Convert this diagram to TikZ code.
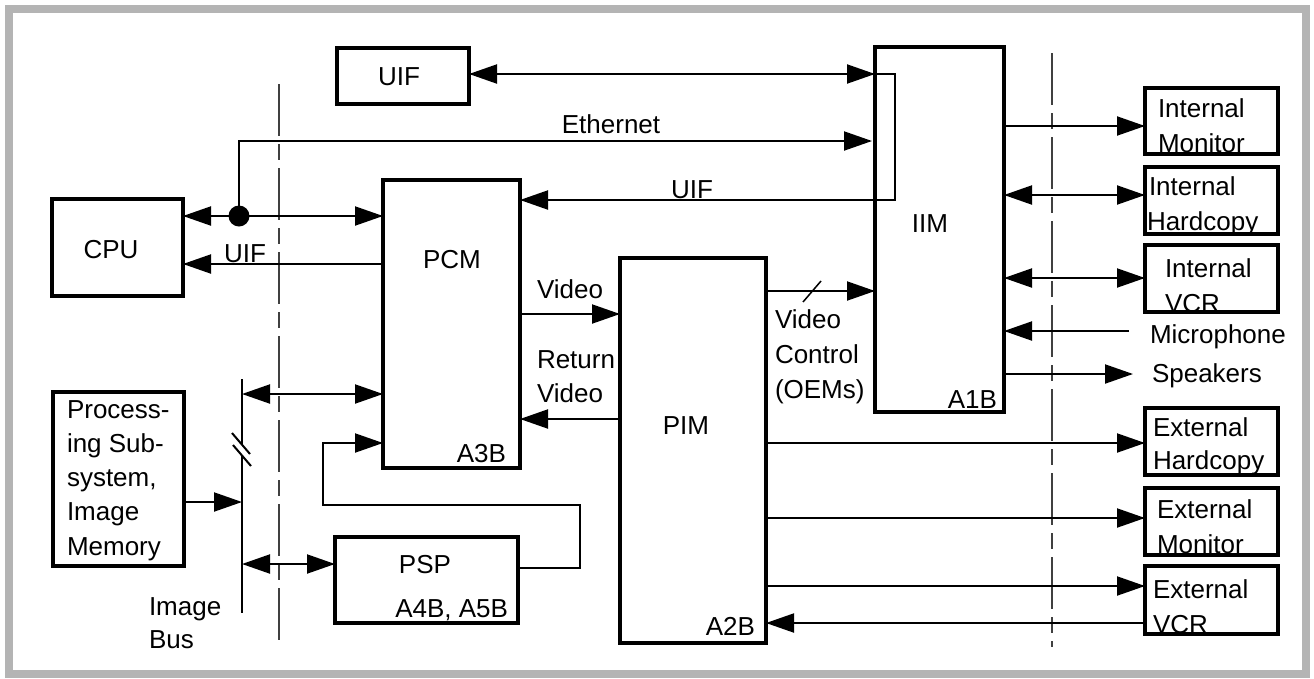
\documentclass[tikz,border=0pt]{standalone}
\usepackage{fontspec}
\setmainfont{Liberation Sans}
\usetikzlibrary{arrows.meta}
\begin{document}
\begin{tikzpicture}[x=1pt,y=-1pt,
  box/.style={draw, line width=3.2pt, rectangle, inner sep=0pt, outer sep=0pt},
  txt/.style={inner sep=0pt, outer sep=0pt, font=\fontsize{26}{30}\selectfont},
  conn/.style={line width=2pt},
  arr/.style={conn, -{Triangle[length=28pt,width=19pt]}},
  dbl/.style={conn, {Triangle[length=28pt,width=19pt]}-{Triangle[length=28pt,width=19pt]}},
  sepline/.style={line width=1.3pt, black!75, dash pattern=on 52pt off 8pt on 16pt off 8pt},
]
\useasboundingbox (0,0) rectangle (1314,678);
\draw[line width=8pt, color={rgb,255:red,180;green,180;blue,180}] (8.5,8.5) rectangle (1306,674);

% separator lines
\draw[sepline] (279,84) -- (279,643);
\draw[sepline] (1052,53) -- (1052,647);

% boxes
\node[box, minimum width=132pt, minimum height=56pt] (uifbox) at (403,76) {};
\node[box, minimum width=131pt, minimum height=97pt] (cpu) at (117.5,247.5) {};
\node[box, minimum width=137pt, minimum height=288pt] (pcm) at (451.5,324) {};
\node[box, minimum width=131pt, minimum height=174pt] (proc) at (118.5,479) {};
\node[box, minimum width=183pt, minimum height=86pt] (psp) at (426.5,580) {};
\node[box, minimum width=146pt, minimum height=385pt] (pim) at (693,450.5) {};
\node[box, minimum width=129pt, minimum height=365pt] (iim) at (939.5,229.5) {};
\node[box, minimum width=133pt, minimum height=66pt] (intmon) at (1211.5,121) {};
\node[box, minimum width=133pt, minimum height=67pt] (inthc) at (1211.5,200.5) {};
\node[box, minimum width=133pt, minimum height=67pt] (intvcr) at (1211.5,278.5) {};
\node[box, minimum width=133pt, minimum height=67pt] (exthc) at (1211.5,441.5) {};
\node[box, minimum width=133pt, minimum height=67pt] (extmon) at (1211.5,521.5) {};
\node[box, minimum width=133pt, minimum height=68pt] (extvcr) at (1211.5,600) {};

% texts
\node[txt, anchor=base] (tuif) at (399,85) {UIF};
\node[txt, anchor=base] (teth) at (611,133) {Ethernet};
\node[txt, anchor=base] (tuif2) at (692,198) {UIF};
\node[txt, anchor=base] (tcpu) at (111,258) {CPU};
\node[txt, anchor=base] (tuif3) at (245,262) {UIF};
\node[txt, anchor=base] (tpcm) at (452,268) {PCM};
\node[txt, anchor=base east] (ta3b) at (506,462) {A3B};
\node[txt, anchor=base west] (tvid) at (537,298) {Video};
\node[txt, anchor=base west] (tret1) at (537,368) {Return};
\node[txt, anchor=base west] (tret2) at (537,402) {Video};
\node[txt, anchor=base west] (tvc1) at (775,328) {Video};
\node[txt, anchor=base west] (tvc2) at (775,363) {Control};
\node[txt, anchor=base west] (tvc3) at (775,398) {(OEMs)};
\node[txt, anchor=base] (tpim) at (686,434) {PIM};
\node[txt, anchor=base east] (ta2b) at (755,635) {A2B};
\node[txt, anchor=base] (tiim) at (930,232) {IIM};
\node[txt, anchor=base east] (ta1b) at (997,408) {A1B};
\node[txt, anchor=base] (tpsp) at (425,573) {PSP};
\node[txt, anchor=base east] (ta45) at (508,617) {A4B, A5B};
\node[txt, anchor=base west] (tp1) at (67,418) {Process-};
\node[txt, anchor=base west] (tp2) at (67,452) {ing Sub-};
\node[txt, anchor=base west] (tp3) at (67,486) {system,};
\node[txt, anchor=base west] (tp4) at (67,520) {Image};
\node[txt, anchor=base west] (tp5) at (67,555) {Memory};
\node[txt, anchor=base west] (tbus1) at (149,615) {Image};
\node[txt, anchor=base west] (tbus2) at (149,648) {Bus};
\node[txt, anchor=base west] (tim1) at (1158,117) {Internal};
\node[txt, anchor=base west] (tim2) at (1158,152) {Monitor};
\node[txt, anchor=base west] (tih1) at (1149,195) {Internal};
\node[txt, anchor=base west] (tih2) at (1147,230) {Hardcopy};
\node[txt, anchor=base west] (tiv1) at (1165,277) {Internal};
\node[txt, anchor=base west] (tiv2) at (1165,312) {VCR};
\node[txt, anchor=base west] (tmic) at (1150,343) {Microphone};
\node[txt, anchor=base west] (tspk) at (1152,382) {Speakers};
\node[txt, anchor=base west] (teh1) at (1153,436) {External};
\node[txt, anchor=base west] (teh2) at (1153,469) {Hardcopy};
\node[txt, anchor=base west] (tem1) at (1157,518) {External};
\node[txt, anchor=base west] (tem2) at (1157,553) {Monitor};
\node[txt, anchor=base west] (tev1) at (1153,598) {External};
\node[txt, anchor=base west] (tev2) at (1153,633) {VCR};

% image bus
\coordinate (bustop) at (242,379);
\coordinate (busbot) at (242,613);
\draw[conn] (bustop) -- (242,444);
\draw[conn] (242,456) -- (busbot);
\draw[conn] (232,433) -- (250,454);
\draw[conn] (233,445) -- (251,466);

% connectors
\draw[dbl] (uifbox.east |- 0,74) -- (iim.west |- 0,74);
\draw[conn] (iim.west |- 0,74) -- ([xshift=20pt]iim.west |- 0,74) -- ([xshift=20pt]iim.west |- 0,200) -- (iim.west |- 0,200);
\draw[arr] (iim.west |- 0,200) -- (pcm.east |- 0,200);
\node[circle, fill, inner sep=0pt, minimum size=21pt] (dot) at (239,216) {};
\draw[dbl] (cpu.east |- 0,216) -- (pcm.west |- 0,216);
\draw[arr] (dot.center) -- (dot.center |- 0,141) -- ([xshift=-3pt]iim.west |- 0,141);
\draw[arr] (pcm.west |- 0,264) -- (cpu.east |- 0,264);
\draw[dbl] (bustop |- 0,394) -- (pcm.west |- 0,394);
\draw[arr] (psp.east |- 0,568) -- (580,568) -- (580,505) -- (323,505) -- (323,443) -- (pcm.west |- 0,443);
\draw[arr] (proc.east |- 0,502) -- (bustop |- 0,502);
\draw[dbl] (bustop |- 0,564) -- (psp.west |- 0,564);
\draw[arr] (pcm.east |- 0,314) -- (pim.west |- 0,314);
\draw[arr] (pim.west |- 0,419) -- (pcm.east |- 0,419);
\draw[arr] (pim.east |- 0,291) -- (iim.west |- 0,291);
\draw[line width=1.5pt] (803,302) -- (821,281);
\draw[arr] (iim.east |- 0,126) -- (intmon.west |- 0,126);
\draw[dbl] (iim.east |- 0,195) -- (inthc.west |- 0,195);
\draw[dbl] (iim.east |- 0,278) -- (intvcr.west |- 0,278);
\coordinate (micend) at (1129,331);
\coordinate (spkend) at (1133,374);
\draw[arr] (micend) -- (iim.east |- micend);
\draw[arr] (iim.east |- spkend) -- (spkend);
\draw[arr] (pim.east |- 0,443) -- (exthc.west |- 0,443);
\draw[arr] (pim.east |- 0,518) -- (extmon.west |- 0,518);
\draw[arr] (pim.east |- 0,586) -- (extvcr.west |- 0,586);
\draw[arr] (extvcr.west |- 0,623) -- (pim.east |- 0,623);
\end{tikzpicture}
\end{document}
